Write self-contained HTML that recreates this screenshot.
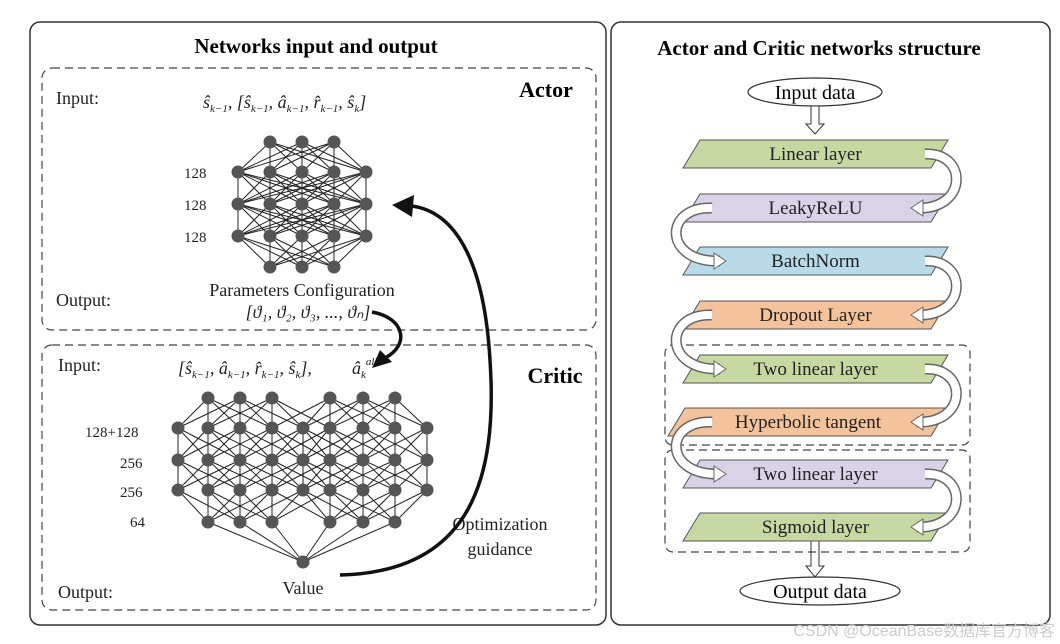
<!DOCTYPE html>
<html><head><meta charset="utf-8"><style>
body{margin:0;background:#fff;width:1060px;height:644px;overflow:hidden}
svg{display:block;font-family:"Liberation Serif",serif}
</style></head><body>
<svg id="s" width="1060" height="644" viewBox="0 0 1060 644" xmlns="http://www.w3.org/2000/svg">
<rect width="1060" height="644" fill="#fff"/>
<rect x="30" y="22" width="576" height="603" rx="10" fill="none" stroke="#333" stroke-width="1.5"/>
<rect x="611" y="22" width="439" height="603" rx="10" fill="none" stroke="#333" stroke-width="1.5"/>
<rect x="42" y="68" width="554" height="262" rx="10" fill="none" stroke="#444" stroke-width="1.2" stroke-dasharray="8,5"/>
<rect x="42" y="345" width="554" height="265" rx="10" fill="none" stroke="#444" stroke-width="1.2" stroke-dasharray="8,5"/>
<text x="316" y="53" font-size="21" font-weight="bold" text-anchor="middle">Networks input and output</text>
<text x="819" y="55" font-size="21" font-weight="bold" text-anchor="middle">Actor and Critic networks structure</text>
<text x="546" y="97" font-size="22" font-weight="bold" text-anchor="middle">Actor</text>
<text x="555" y="383" font-size="22" font-weight="bold" text-anchor="middle">Critic</text>
<g font-size="18" fill="#222">
<text x="56" y="104">Input:</text>
<text x="56" y="306">Output:</text>
<text x="58" y="371">Input:</text>
<text x="58" y="598">Output:</text>
<text x="302" y="296" text-anchor="middle">Parameters Configuration</text>
<text x="308" y="318" text-anchor="middle" font-style="italic">[ϑ₁, ϑ₂, ϑ₃, ..., ϑₙ]</text>
<text x="303" y="594" text-anchor="middle">Value</text>
<text x="500" y="530" text-anchor="middle">Optimization</text>
<text x="500" y="555" text-anchor="middle">guidance</text>
<text x="203" y="108" font-style="italic" font-size="18">ŝ<tspan font-size="11" dy="4">k−1</tspan><tspan dy="-4">,   [ŝ</tspan><tspan font-size="11" dy="4">k−1</tspan><tspan dy="-4">, â</tspan><tspan font-size="11" dy="4">k−1</tspan><tspan dy="-4">, r̂</tspan><tspan font-size="11" dy="4">k−1</tspan><tspan dy="-4">, ŝ</tspan><tspan font-size="11" dy="4">k</tspan><tspan dy="-4">]</tspan></text>
<text x="178" y="374" font-style="italic" font-size="18">[ŝ<tspan font-size="11" dy="4">k−1</tspan><tspan dy="-4">, â</tspan><tspan font-size="11" dy="4">k−1</tspan><tspan dy="-4">, r̂</tspan><tspan font-size="11" dy="4">k−1</tspan><tspan dy="-4">, ŝ</tspan><tspan font-size="11" dy="4">k</tspan><tspan dy="-4">],</tspan></text>
<text x="352" y="374" font-style="italic" font-size="18">â<tspan font-size="11" dy="4">k</tspan><tspan font-size="11" dy="-13">all</tspan></text>
</g>
<g font-size="15" fill="#222">
<text x="184" y="178">128</text><text x="184" y="210">128</text><text x="184" y="242">128</text>
<text x="85" y="437">128+128</text><text x="120" y="468">256</text><text x="120" y="497">256</text><text x="130" y="527">64</text>
</g>
<g id="net" stroke="#222" stroke-width="1"></g>
<g id="nodes" fill="#555"></g>
<path d="M340,575 C470,572 498,480 490,360 C484,260 455,212 412,206" fill="none" stroke="#111" stroke-width="3.5"/>
<polygon points="392,205 414,195 412,217" fill="#111"/>
<path d="M372,312 C405,318 410,345 385,358" fill="none" stroke="#111" stroke-width="3.5"/>
<polygon points="372,368 380,350 392,362" fill="#111"/>
<ellipse cx="815" cy="92" rx="67" ry="14" fill="#fff" stroke="#333" stroke-width="1.2"/>
<text x="815" y="99" font-size="20" text-anchor="middle">Input data</text>
<ellipse cx="820" cy="591" rx="80" ry="14" fill="#fff" stroke="#333" stroke-width="1.2"/>
<text x="820" y="598" font-size="20" text-anchor="middle">Output data</text>
<polygon points="811,106 819,106 819,124 824,124 815,134 806,124 811,124" fill="#fff" stroke="#333"/>
<polygon points="811,540 819,540 819,566 824,566 815,577 806,566 811,566" fill="#fff" stroke="#333"/>
<rect x="665" y="345" width="305" height="100" rx="8" fill="none" stroke="#444" stroke-width="1.2" stroke-dasharray="8,5"/>
<rect x="665" y="450" width="305" height="102" rx="8" fill="none" stroke="#444" stroke-width="1.2" stroke-dasharray="8,5"/>
<g id="layers" font-size="19"></g>
<g id="conn"></g>
<text x="1055" y="636" font-size="16" fill="#ccc" text-anchor="end" font-family="Liberation Sans,'Noto Sans CJK SC',sans-serif">CSDN @OceanBase数据库官方博客</text>
</svg>
<script>
var NS="http://www.w3.org/2000/svg";
function el(p,t,a){var e=document.createElementNS(NS,t);for(var k in a)e.setAttribute(k,a[k]);p.appendChild(e);return e;}
var net=document.getElementById('net'),nodes=document.getElementById('nodes');
function conn(A,B,maxd){A.forEach(function(a){B.forEach(function(b){if(!maxd||Math.abs(a[0]-b[0])<=maxd)el(net,'line',{x1:a[0],y1:a[1],x2:b[0],y2:b[1]});});});}
function row(xs,y){return xs.map(function(x){return [x,y];});}
var a0=row([270,302,334],142),a1=row([238,270,302,334,366],172),a2=row([238,270,302,334,366],204),a3=row([238,270,302,334,366],236),a4=row([270,302,334],267);
conn(a0,a1);conn(a1,a2);conn(a2,a3);conn(a3,a4);
[a0,a1,a2,a3,a4].forEach(function(r){r.forEach(function(p){el(nodes,'circle',{cx:p[0],cy:p[1],r:6.5});});});
var nine=[178,208,240,272,303,330,363,395,427];
var c0=row([208,240,272,330,363,395],398),c1=row(nine,428),c2=row(nine,460),c3=row(nine,490),c4=row([208,240,272,330,363,395],522),c5=[[303,562]];
conn(c0,c1,70);conn(c1,c2,70);conn(c2,c3,70);conn(c3,c4,70);conn(c4,c5);
[c0,c1,c2,c3,c4,c5].forEach(function(r){r.forEach(function(p){el(nodes,'circle',{cx:p[0],cy:p[1],r:6.5});});});
var L=[["Linear layer",154,"#c6d9a2",683,948],["LeakyReLU",208,"#dad3e8",683,948],["BatchNorm",261,"#b9dbe9",683,948],["Dropout Layer",315,"#f4c39b",683,948],["Two linear layer",369,"#c6d9a2",683,948],["Hyperbolic tangent",422,"#f4c39b",668,948],["Two linear layer",474,"#dad3e8",683,948],["Sigmoid layer",527,"#c6d9a2",683,948]];
var lg=document.getElementById('layers');
L.forEach(function(l){var y=l[1],x0=l[3],x1=l[4];
el(lg,'polygon',{points:(x0+17)+','+(y-14)+' '+x1+','+(y-14)+' '+(x1-17)+','+(y+14)+' '+x0+','+(y+14),fill:l[2],stroke:'#555','stroke-width':1});
var t=el(lg,'text',{x:(x0+x1)/2,y:y+6,'text-anchor':'middle',fill:'#222'});t.textContent=l[0];});
var cg=document.getElementById('conn');
function carrow(x0,y0,y1,side){var out=side>0?968:663;var d='M'+x0+','+y0+' C'+out+','+(y0-2)+' '+out+','+(y1+2)+' '+(x0+side*-8)+','+y1;
el(cg,'path',{d:d,fill:'none',stroke:'#666','stroke-width':11});el(cg,'path',{d:d,fill:'none',stroke:'#fff','stroke-width':8});
var tx=x0-side*14;el(cg,'polygon',{points:tx+','+y1+' '+(tx+side*12)+','+(y1-8)+' '+(tx+side*12)+','+(y1+8),fill:'#fff',stroke:'#666'});}
for(var i=0;i<7;i++){var side=(i%2==0)?1:-1;var x0=side>0?925:712;carrow(x0,L[i][1],L[i+1][1],side);}
</script>
</body></html>
